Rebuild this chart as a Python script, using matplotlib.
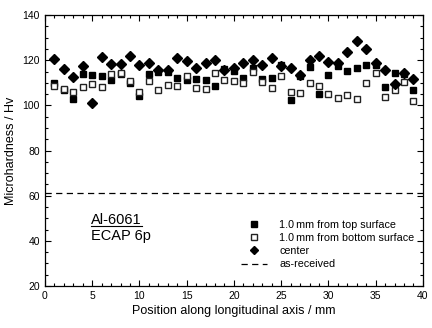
import numpy as np
import matplotlib
matplotlib.use("Agg")
import matplotlib.pyplot as plt
from matplotlib.ticker import MultipleLocator

plt.rcParams['font.family'] = ['Liberation Sans', 'DejaVu Sans']

# position along longitudinal axis (mm)
pos = list(range(1, 40))

# 1.0 mm from top surface
top = [110, 107, 103, 114, 113.6, 112.9, 111.2, 114, 110, 104,
       113.9, 114.9, 114.6, 112.2, 111.2, 111.5, 111.4, 108.6, 116, 115.2,
       112.2, 116.7, 111.7, 112.2, 117.9, 102.5, 113, 117.1, 105.1, 113.4,
       117.6, 115.3, 116.7, 118, 118, 108.3, 114.5, 114, 106.8]

# 1.0 mm from bottom surface
bottom = [108.7, 107.4, 105.8, 108.1, 109.6, 108.3, 113.9, 114.3, 110.8, 105.8,
          110.6, 106.6, 108.9, 108.6, 112.9, 107.5, 107.1, 114.2, 111.4, 110.6,
          109.8, 114.8, 110.5, 107.8, 112.9, 105.8, 105.5, 110.1, 108.6, 105.2,
          103.4, 104.6, 102.7, 110, 114.5, 103.8, 106.8, 110.2, 101.9]

# center
center = [120.5, 116.1, 112.5, 117.6, 101, 121.3, 118.4, 118.4, 122, 117.9,
          118.8, 115.5, 115.5, 120.8, 119.6, 116.4, 118.7, 120.1, 115.6, 116.4,
          119, 120.2, 117.9, 120.8, 117.6, 116.7, 113.4, 120.1, 122.1, 119.3,
          118.8, 123.8, 128.4, 125, 118.7, 115.8, 109.4, 114.5, 111.6]

as_received = 61

fig = plt.figure(figsize=(4.32, 3.28), dpi=100)
ax = fig.add_axes([0.104, 0.128, 0.875, 0.826])

ax.plot(pos, top, ls='none', marker='s', ms=5, mfc='black', mec='black',
        label='1.0\u2009mm from top surface', zorder=3)
ax.plot(pos, bottom, ls='none', marker='s', ms=5, mfc='white', mec='#222222',
        mew=1.0, label='1.0\u2009mm from bottom surface', zorder=4)
ax.plot(pos, center, ls='none', marker='D', ms=5, mfc='black', mec='black',
        label='center', zorder=5)
ax.axhline(as_received, color='black', ls=(0, (5, 3.5)), lw=0.9,
           label='as-received', zorder=2)

ax.set_xlim(0, 40)
ax.set_ylim(20, 140)
ax.xaxis.set_major_locator(MultipleLocator(5))
ax.xaxis.set_minor_locator(MultipleLocator(1))
ax.yaxis.set_major_locator(MultipleLocator(20))
ax.yaxis.set_minor_locator(MultipleLocator(5))
ax.tick_params(which='both', direction='in', top=True, right=True,
               labelsize=7.5, width=0.8)
ax.tick_params(which='major', length=4)
ax.tick_params(which='minor', length=2)
for s in ax.spines.values():
    s.set_linewidth(0.9)

ax.set_xlabel('Position along longitudinal axis / mm', fontsize=9, labelpad=3)
ax.set_ylabel('Microhardness / Hv', fontsize=9, labelpad=4)

ax.text(4.87, 47.6, 'Al-6061', fontsize=10.5, ha='left', va='baseline')
ax.plot([4.87, 10.23], [46.4, 46.4], color='black', lw=0.8)
ax.text(4.87, 40.5, 'ECAP 6p', fontsize=10.5, ha='left', va='baseline')

ax.legend(loc='upper left', bbox_to_anchor=(0.52, 0.245), frameon=False,
          borderaxespad=0, borderpad=0, fontsize=7.75, handlelength=2.4,
          handletextpad=1.1, labelspacing=0.3, markerscale=0.8)

fig.savefig('out.png', dpi=100)
